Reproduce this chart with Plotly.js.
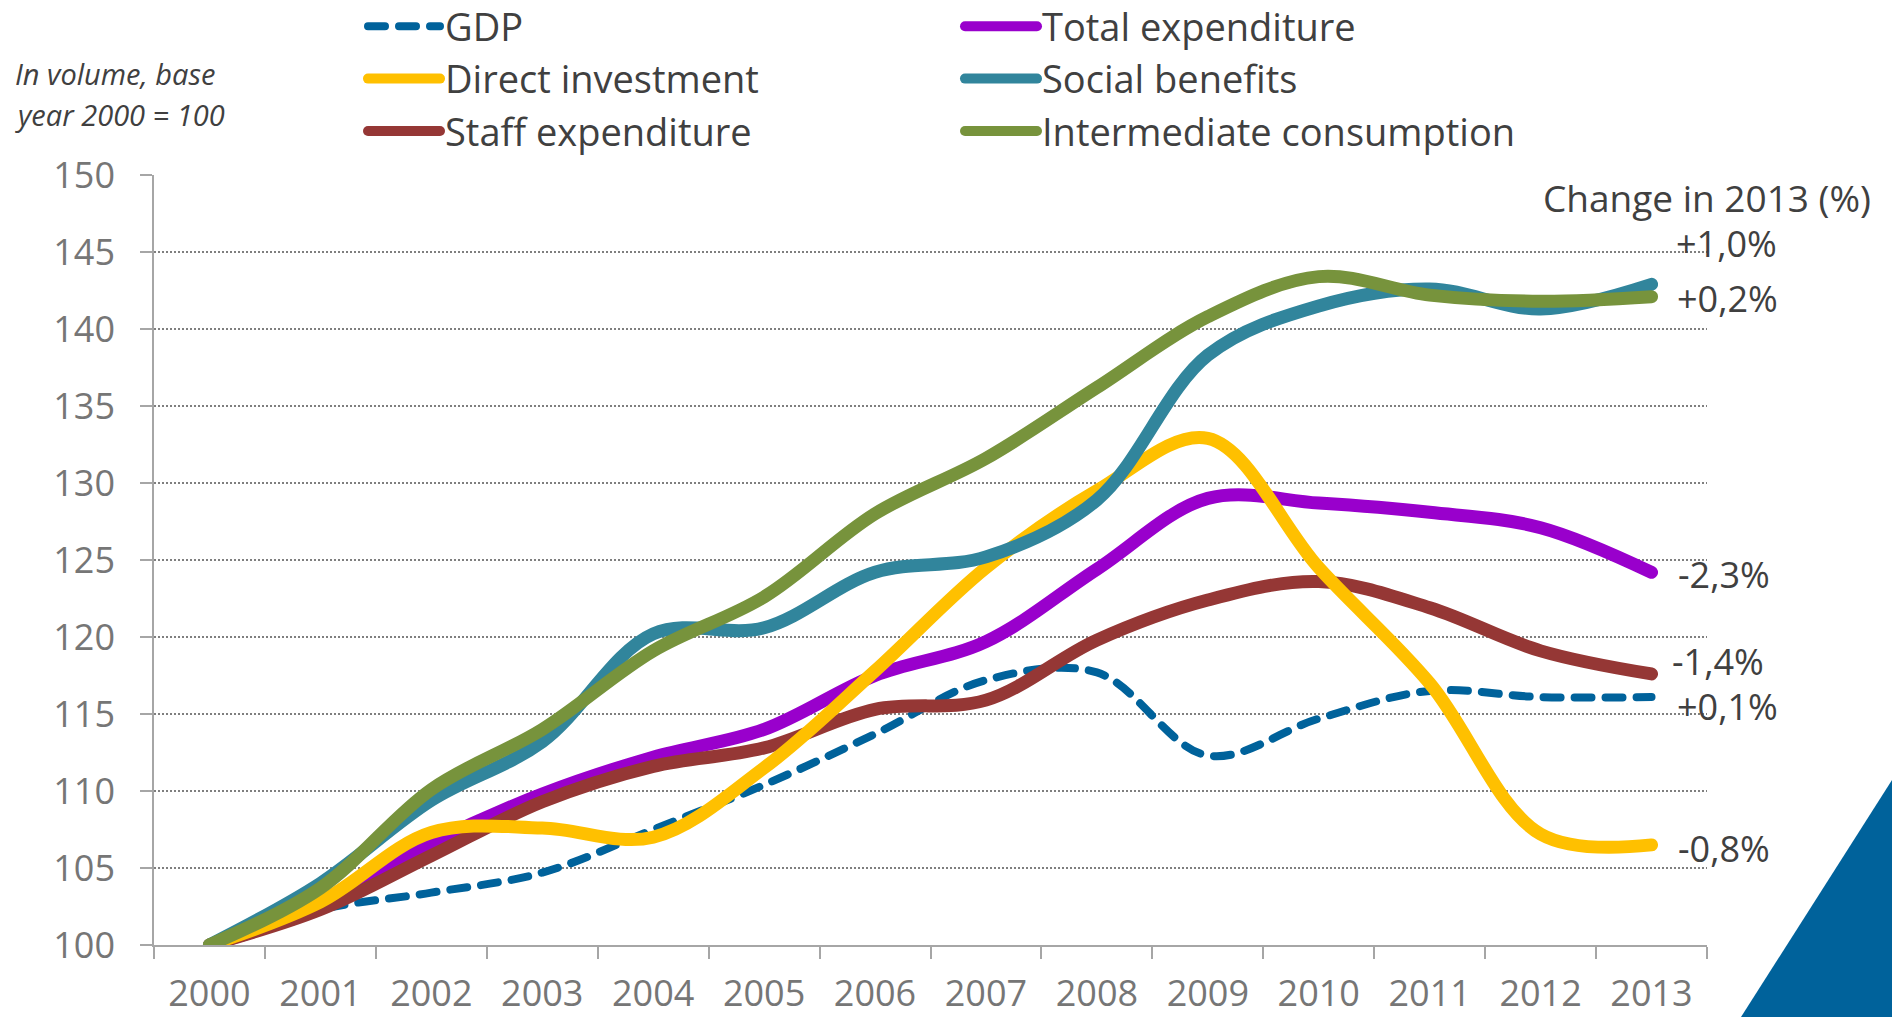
<!DOCTYPE html>
<html>
<head>
<meta charset="utf-8">
<script src="https://cdn.plot.ly/plotly-3.0.1.min.js"></script>
<style>
  html, body { margin: 0; padding: 0; background: #ffffff; }
  #chart { width: 1892px; height: 1017px; }
  .scatterlayer .js-line, .legend .js-line { stroke-linecap: round; stroke-linejoin: round; }
</style>
</head>
<body>
<div id="chart"></div>
<script>
// ---- Data (index, base year 2000 = 100) ----
const years = ['2000','2001','2002','2003','2004','2005','2006','2007','2008','2009','2010','2011','2012','2013'];

const gdp                = [100, 102.3, 103.4, 104.7, 107.5, 110.4, 113.7, 117.2, 117.7, 112.3, 114.7, 116.5, 116.1, 116.1];
const totalExpenditure   = [100, 102.5, 106.6, 109.8, 112.2, 114.0, 117.5, 119.7, 124.4, 129.0, 128.7, 128.1, 127.1, 124.2];
const directInvestment   = [100, 102.8, 107.3, 107.6, 107.0, 111.5, 117.8, 124.5, 129.5, 132.9, 124.5, 117.0, 107.2, 106.5];
const socialBenefits     = [100, 104.0, 109.4, 113.2, 120.2, 120.6, 124.2, 125.2, 128.9, 138.3, 141.5, 142.6, 141.3, 142.9];
const staffExpenditure   = [100, 102.3, 105.8, 109.3, 111.6, 112.8, 115.3, 115.9, 119.8, 122.4, 123.6, 121.9, 119.1, 117.6];
const intermediateCons   = [100, 103.7, 110.1, 114.0, 119.1, 122.6, 128.0, 131.6, 136.2, 140.8, 143.4, 142.2, 141.8, 142.1];

const seriesNames = ['GDP', 'Total expenditure', 'Direct investment', 'Social benefits', 'Staff expenditure', 'Intermediate consumption'];
const changeLabels = ['+1,0%', '+0,2%', '-2,3%', '-1,4%', '+0,1%', '-0,8%'];
const yTicks = [100, 105, 110, 115, 120, 125, 130, 135, 140, 145, 150];

const FONT = '"Open Sans", "Noto Sans", sans-serif';

function line(name, y, color, width, rank, dash) {
  return {
    type: 'scatter', mode: 'lines', name: name, x: years, y: y,
    line: { color: color, width: width, shape: 'spline', smoothing: 1, dash: dash || 'solid' },
    legendrank: rank, hoverinfo: 'x+y+name'
  };
}

// draw order: GDP at bottom, intermediate consumption on top
const traces = [
  line(seriesNames[0], gdp, '#00629B', 8, 1, '17px,14px'),
  line(seriesNames[1], totalExpenditure, '#9900CC', 13, 2),
  line(seriesNames[4], staffExpenditure, '#953735', 13, 5),
  line(seriesNames[2], directInvestment, '#FFC000', 13, 3),
  line(seriesNames[3], socialBenefits, '#31859C', 13, 4),
  line(seriesNames[5], intermediateCons, '#77933C', 13, 6)
];

// pixel -> paper helpers (plot area: x 154..1707, y 175..945)
const PX0 = 154, PX1 = 1707, PY0 = 175, PY1 = 945;
const px = v => (v - PX0) / (PX1 - PX0);
const py = v => (PY1 - v) / (PY1 - PY0);

const labelPos = [
  [1674, 243], [1675, 298], [1676, 574], [1670, 661], [1675, 706], [1676, 848]
];

const annotations = [
  { text: 'Change in 2013 (%)', x: px(1873), y: py(197), xanchor: 'right', yanchor: 'middle',
    font: { family: FONT, size: 37, color: '#404040' } },
  { text: '<i>In volume, base</i>', x: px(13), y: py(74), xanchor: 'left', yanchor: 'middle',
    font: { family: FONT, size: 29, color: '#404040' } },
  { text: '<i>year 2000 = 100</i>', x: px(13), y: py(115), xanchor: 'left', yanchor: 'middle',
    font: { family: FONT, size: 29, color: '#404040' } }
].concat(changeLabels.map((t, i) => ({
  text: t, x: px(labelPos[i][0]), y: py(labelPos[i][1]), xanchor: 'left', yanchor: 'middle',
  font: { family: FONT, size: 36, color: '#404040' }
}))).map(a => Object.assign({ xref: 'paper', yref: 'paper', showarrow: false }, a));

const layout = {
  width: 1892, height: 1017,
  margin: { l: PX0, r: 1892 - PX1, t: PY0, b: 1017 - PY1, pad: 0, autoexpand: false },
  paper_bgcolor: '#ffffff', plot_bgcolor: '#ffffff',
  font: { family: FONT, color: '#404040' },
  showlegend: true,
  legend: {
    orientation: 'h', x: px(363), xanchor: 'left', y: py(-5), yanchor: 'top',
    font: { family: FONT, size: 38, color: '#404040' },
    itemwidth: 72, entrywidth: 510, entrywidthmode: 'pixels',
    bgcolor: 'rgba(0,0,0,0)', traceorder: 'normal', itemclick: false, itemdoubleclick: false
  },
  xaxis: {
    type: 'category', range: [-0.5, 13.5], tickson: 'boundaries',
    ticks: 'outside', ticklen: 12, tickwidth: 2, tickcolor: '#a6a6a6',
    showline: true, linecolor: '#a6a6a6', linewidth: 2, showgrid: false, zeroline: false,
    tickfont: { family: FONT, size: 36, color: '#767676' }, ticklabelstandoff: 16,
    fixedrange: true
  },
  yaxis: {
    range: [100, 150], tickmode: 'array', tickvals: yTicks, ticktext: yTicks.map(String),
    ticks: 'outside', ticklen: 12, tickwidth: 1.5, tickcolor: '#a6a6a6',
    showline: true, linecolor: '#a6a6a6', linewidth: 1.5, zeroline: false,
    showgrid: true, gridcolor: '#7f7f7f', gridwidth: 1.5, griddash: '2px,2px',
    tickfont: { family: FONT, size: 36, color: '#767676' }, ticklabelstandoff: 18,
    fixedrange: true
  },
  annotations: annotations,
  shapes: [
    { type: 'path', xref: 'paper', yref: 'paper', layer: 'above',
      path: 'M ' + px(1741) + ',' + py(1017) + ' L ' + px(1892) + ',' + py(1017) +
            ' L ' + px(1892) + ',' + py(780) + ' Z',
      fillcolor: '#00629B', line: { width: 0 } }
  ]
};

Plotly.newPlot('chart', traces, layout, { displayModeBar: false, staticPlot: false, responsive: false });
</script>
</body>
</html>
